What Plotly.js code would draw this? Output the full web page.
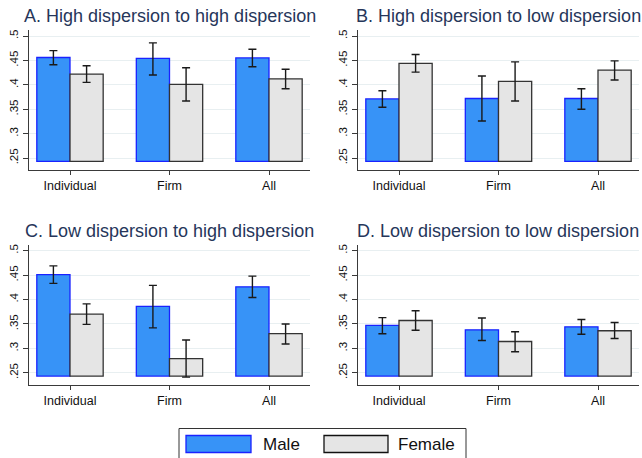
<!DOCTYPE html>
<html>
<head>
<meta charset="utf-8">
<script src="https://cdn.plot.ly/plotly-3.0.1.min.js"></script>
<style>html,body{margin:0;padding:0;background:#fff;}#chart{width:642px;height:458px;}</style>
</head>
<body>
<div id="chart"></div>
<script>
// ---- data ----
const categories = ["Individual", "Firm", "All"];
const panelTitles = [
  "A. High dispersion to high dispersion",
  "B. High dispersion to low dispersion",
  "C. Low dispersion to high dispersion",
  "D. Low dispersion to low dispersion"
];
const seriesNames = ["Male", "Female"];
const yTickVals = [0.25, 0.3, 0.35, 0.4, 0.45, 0.5];
const yTickText = [".25", ".3", ".35", ".4", ".45", ".5"];

const maleA = [0.456, 0.454, 0.455];
const maleA_lo = [0.441, 0.420, 0.437];
const maleA_hi = [0.470, 0.486, 0.473];
const femaleA = [0.422, 0.401, 0.412];
const femaleA_lo = [0.405, 0.367, 0.392];
const femaleA_hi = [0.439, 0.435, 0.432];

const maleB = [0.371, 0.372, 0.372];
const maleB_lo = [0.354, 0.326, 0.350];
const maleB_hi = [0.388, 0.418, 0.392];
const femaleB = [0.444, 0.407, 0.430];
const femaleB_lo = [0.426, 0.367, 0.410];
const femaleB_hi = [0.462, 0.447, 0.449];

const maleC = [0.451, 0.386, 0.426];
const maleC_lo = [0.433, 0.342, 0.404];
const maleC_hi = [0.469, 0.429, 0.448];
const femaleC = [0.370, 0.279, 0.330];
const femaleC_lo = [0.349, 0.241, 0.309];
const femaleC_hi = [0.391, 0.317, 0.350];

const maleD = [0.347, 0.338, 0.344];
const maleD_lo = [0.330, 0.316, 0.329];
const maleD_hi = [0.363, 0.362, 0.359];
const femaleD = [0.357, 0.314, 0.336];
const femaleD_lo = [0.337, 0.293, 0.320];
const femaleD_hi = [0.377, 0.334, 0.353];

const BAR_BASE = 0.2432;

// ---- styling ----
const W = 642, H = 458;
const FONT = "Liberation Sans, Arial, Helvetica, sans-serif";
const maleFill = "#3793f7", maleLine = "#1a22ff";
const femaleFill = "#e5e5e5", femaleLine = "#333333";
const titleColor = "#26365a";
const axisColor = "#3a3a3a";

const panels = [
  {m: maleA, mlo: maleA_lo, mhi: maleA_hi, f: femaleA, flo: femaleA_lo, fhi: femaleA_hi},
  {m: maleB, mlo: maleB_lo, mhi: maleB_hi, f: femaleB, flo: femaleB_lo, fhi: femaleB_hi},
  {m: maleC, mlo: maleC_lo, mhi: maleC_hi, f: femaleC, flo: femaleC_lo, fhi: femaleC_hi},
  {m: maleD, mlo: maleD_lo, mhi: maleD_hi, f: femaleD, flo: femaleD_lo, fhi: femaleD_hi}
];

// pixel-based domains
const xDomPx = [[29, 310], [358, 639], [29, 310], [358, 639]];
const yDomPx = [[30, 170], [30, 170], [244.7, 384.7], [244.7, 384.7]];
const yRange = [0.2255, 0.5123];

const traces = [];
const layout = {
  width: W, height: H,
  margin: {l: 0, r: 0, t: 0, b: 0},
  paper_bgcolor: "#ffffff", plot_bgcolor: "#ffffff",
  barmode: "group", bargap: 0.333, bargroupgap: 0,
  showlegend: false,
  font: {family: FONT, color: "#111"},
  annotations: [], shapes: []
};

function errOf(vals, lo, hi) {
  return {
    type: "data", symmetric: false,
    array: vals.map((v, i) => hi[i] - v),
    arrayminus: vals.map((v, i) => v - lo[i]),
    color: "#1a1a1a", thickness: 1.4, width: 4
  };
}

panels.forEach((p, k) => {
  const sfx = k === 0 ? "" : String(k + 1);
  const xa = "x" + sfx, ya = "y" + sfx;
  traces.push({
    type: "bar", name: seriesNames[0], x: categories,
    y: p.m.map(v => v - BAR_BASE), base: BAR_BASE,
    xaxis: xa, yaxis: ya,
    marker: {color: maleFill, line: {color: maleLine, width: 1.3}},
    error_y: errOf(p.m, p.mlo, p.mhi), hoverinfo: "none"
  });
  traces.push({
    type: "bar", name: seriesNames[1], x: categories,
    y: p.f.map(v => v - BAR_BASE), base: BAR_BASE,
    xaxis: xa, yaxis: ya,
    marker: {color: femaleFill, line: {color: femaleLine, width: 1.3}},
    error_y: errOf(p.f, p.flo, p.fhi), hoverinfo: "none"
  });
  layout["xaxis" + sfx] = {
    domain: [xDomPx[k][0] / W, xDomPx[k][1] / W],
    anchor: ya, range: [-0.412, 2.412], type: "category",
    showline: true, linecolor: axisColor, linewidth: 1.2,
    ticks: "outside", ticklen: 4, tickcolor: axisColor, tickwidth: 1,
    showgrid: false, zeroline: false,
    tickfont: {family: FONT, size: 12.5, color: "#111"}
  };
  layout["yaxis" + sfx] = {
    domain: [1 - yDomPx[k][1] / H, 1 - yDomPx[k][0] / H],
    anchor: xa, range: yRange,
    tickvals: yTickVals, ticktext: yTickText, tickangle: -90,
    showline: true, linecolor: axisColor, linewidth: 1.2,
    ticks: "outside", ticklen: 5, tickcolor: axisColor, tickwidth: 1,
    showgrid: true, gridcolor: "#e8eff1", gridwidth: 1, zeroline: false,
    tickfont: {family: FONT, size: 11.5, color: "#111"}
  };
  layout.annotations.push({
    xref: "paper", yref: "paper",
    x: (xDomPx[k][0] + xDomPx[k][1]) / 2 / W,
    y: 1 - (k < 2 ? 16.3 : 230.7) / H,
    xanchor: "center", yanchor: "middle", showarrow: false,
    text: panelTitles[k],
    font: {family: FONT, size: 18, color: titleColor}
  });
});

// legend (drawn manually)
const px = v => v / W, py = v => 1 - v / H;
layout.shapes.push({type: "rect", xref: "paper", yref: "paper",
  x0: px(179), x1: px(466), y0: py(470), y1: py(428.5),
  line: {color: "#333", width: 1}, fillcolor: "rgba(0,0,0,0)"});
layout.shapes.push({type: "rect", xref: "paper", yref: "paper",
  x0: px(186), x1: px(251), y0: py(452.5), y1: py(435.5),
  line: {color: maleLine, width: 1.3}, fillcolor: maleFill});
layout.shapes.push({type: "rect", xref: "paper", yref: "paper",
  x0: px(324), x1: px(388), y0: py(452.5), y1: py(435.5),
  line: {color: "#111", width: 1.3}, fillcolor: femaleFill});
layout.annotations.push({xref: "paper", yref: "paper", x: px(261), y: py(444),
  xanchor: "left", yanchor: "middle", showarrow: false, text: seriesNames[0],
  font: {family: FONT, size: 17, color: "#111"}});
layout.annotations.push({xref: "paper", yref: "paper", x: px(396), y: py(444),
  xanchor: "left", yanchor: "middle", showarrow: false, text: seriesNames[1],
  font: {family: FONT, size: 17, color: "#111"}});

Plotly.newPlot("chart", traces, layout, {staticPlot: true, displayModeBar: false});
</script>
</body>
</html>
